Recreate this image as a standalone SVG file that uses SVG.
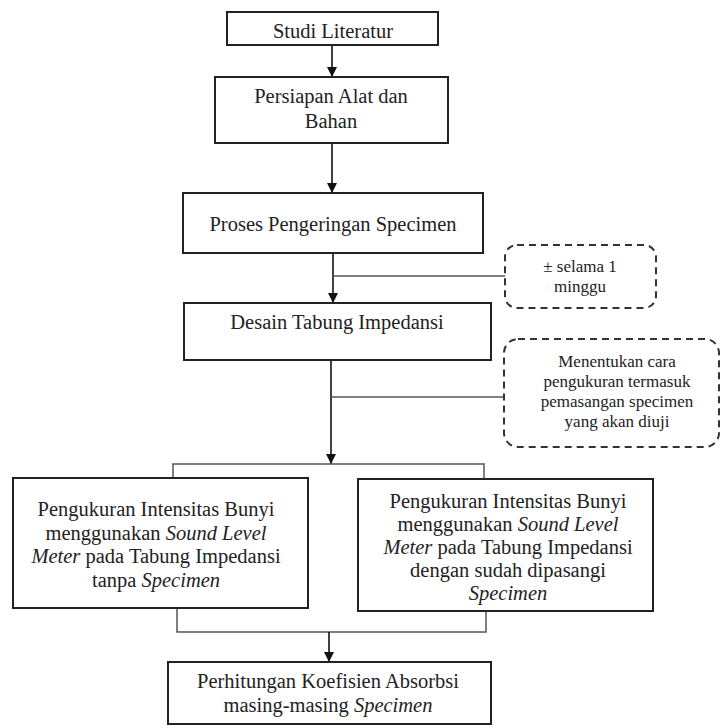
<svg xmlns="http://www.w3.org/2000/svg" width="721" height="726" viewBox="0 0 721 726">
<style>
.box{fill:#fff;stroke:#222;stroke-width:2}
.note{fill:#fff;stroke:#333;stroke-width:2;stroke-dasharray:7 5}
.t{font-family:'Liberation Serif',serif;font-size:20.5px;fill:#222;text-anchor:middle}
.n{font-family:'Liberation Serif',serif;font-size:17px;fill:#222;text-anchor:middle}
.i{font-style:italic}
.arr{fill:none;stroke:#111;stroke-width:1.6}
.thin{fill:none;stroke:#555;stroke-width:1.5}
</style>
<defs>
<marker id="ah" markerUnits="userSpaceOnUse" markerWidth="10" markerHeight="10" refX="10" refY="5" orient="auto">
<path d="M0,0 L10,5 L0,10 z" fill="#111"/>
</marker>
</defs>
<rect width="721" height="726" fill="#fff"/>
<g id="connectors">
<path class="arr" d="M332,45 V77" marker-end="url(#ah)"/>
<path class="arr" d="M332,143 V193" marker-end="url(#ah)"/>
<path class="arr" d="M333,253 V303" marker-end="url(#ah)"/>
<path class="arr" d="M331,360 V464" marker-end="url(#ah)"/>
<path class="thin" d="M333,276 H505"/>
<path class="thin" d="M331,397 H504"/>
<path class="thin" d="M173,478 V464 H484 V479"/>
<path class="thin" d="M177,608 V632 H486 V611"/>
<path class="arr" d="M329,632 V662" marker-end="url(#ah)"/>
</g>
<g id="studi">
<rect class="box" x="227" y="12" width="211" height="33"/>
<text class="t" x="333" y="38">Studi Literatur</text>
</g>
<g id="persiapan">
<rect class="box" x="215" y="77" width="233" height="66"/>
<text class="t" x="331" y="103">Persiapan Alat dan</text>
<text class="t" x="331" y="128">Bahan</text>
</g>
<g id="proses">
<rect class="box" x="183" y="193" width="300" height="60"/>
<text class="t" x="333" y="231">Proses Pengeringan Specimen</text>
</g>
<g id="note1">
<rect class="note" x="505" y="245" width="151" height="63" rx="12"/>
<text class="n" x="580" y="272">± selama 1</text>
<text class="n" x="580" y="292">minggu</text>
</g>
<g id="desain">
<rect class="box" x="184" y="303" width="307" height="57"/>
<text class="t" x="337" y="329">Desain Tabung Impedansi</text>
</g>
<g id="note2">
<rect class="note" x="504" y="339" width="215" height="108" rx="14"/>
<text class="n" x="617" y="367">Menentukan cara</text>
<text class="n" x="617" y="387">pengukuran termasuk</text>
<text class="n" x="617" y="407">pemasangan specimen</text>
<text class="n" x="617" y="427">yang akan diuji</text>
</g>
<g id="ukur1">
<rect class="box" x="13" y="478" width="295" height="130"/>
<text class="t" x="156" y="516">Pengukuran Intensitas Bunyi</text>
<text class="t" x="156" y="539.5">menggunakan <tspan class="i">Sound Level</tspan></text>
<text class="t" x="156" y="563"><tspan class="i">Meter</tspan> pada Tabung Impedansi</text>
<text class="t" x="156" y="586.5">tanpa <tspan class="i">Specimen</tspan></text>
</g>
<g id="ukur2">
<rect class="box" x="358" y="479" width="295" height="132"/>
<text class="t" x="508" y="508">Pengukuran Intensitas Bunyi</text>
<text class="t" x="508" y="531">menggunakan <tspan class="i">Sound Level</tspan></text>
<text class="t" x="508" y="554"><tspan class="i">Meter</tspan> pada Tabung Impedansi</text>
<text class="t" x="508" y="577">dengan sudah dipasangi</text>
<text class="t" x="508" y="600" font-style="italic">Specimen</text>
</g>
<g id="hitung">
<rect class="box" x="168" y="662" width="323" height="62"/>
<text class="t" x="328" y="688">Perhitungan Koefisien Absorbsi</text>
<text class="t" x="328" y="712">masing-masing <tspan class="i">Specimen</tspan></text>
</g>
</svg>
